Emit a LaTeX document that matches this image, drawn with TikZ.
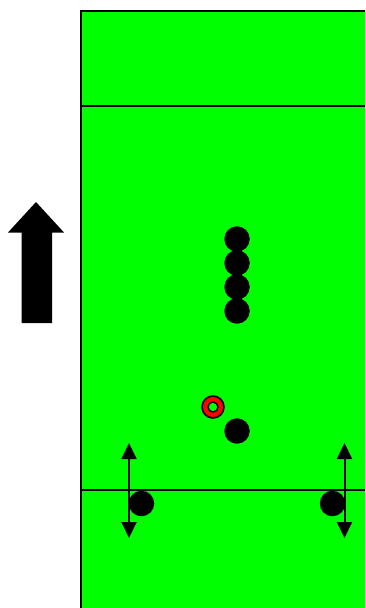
\documentclass[tikz,border=0pt]{standalone}
\usetikzlibrary{arrows.meta}
\definecolor{pitch}{RGB}{0,255,0}
\begin{document}
\begin{tikzpicture}[x=1pt,y=-1pt,
  player/.style={circle,fill=black,inner sep=0pt,minimum size=25.5pt},
  ballring/.style={circle,draw=black,line width=1.6pt,fill=red,inner sep=0pt,minimum size=22pt},
  ballcore/.style={circle,draw=black,line width=1.4pt,fill=pitch,inner sep=0pt,minimum size=10pt},
  fieldline/.style={line width=1.5pt},
  moverange/.style={line width=2pt,{Triangle[length=16pt,width=15pt]}-{Triangle[length=16pt,width=15pt]}}]
\useasboundingbox (0,0) rectangle (365,608);
\clip (0,0) rectangle (365,608);
% pitch
\draw[line width=2pt,fill=pitch] (81,11) rectangle (372,616);
\draw[fieldline] (81,106) -- (372,106);
\draw[fieldline] (81,490) -- (372,490);
% direction of play
\fill[black] (36,202) -- (64,232.5) -- (52,232.5) -- (52,323) -- (21.5,323) -- (21.5,232.5) -- (8,232.5) -- cycle;
% wall of four
\node[player] (w1) at (237,239) {};
\node[player] (w2) at (237,263) {};
\node[player] (w3) at (237,287) {};
\node[player] (w4) at (237,311) {};
% ball and taker
\node[ballring] (ball) at (213,407) {};
\node[ballcore] (core) at (ball) {};
\node[player] (taker) at (237,431) {};
% flank players
\node[player] (lp) at (141.5,503.5) {};
\node[player] (rp) at (332.5,503.5) {};
\coordinate (ltop) at (129,443);
\coordinate (lbot) at (129,538);
\coordinate (rtop) at (344.5,443);
\coordinate (rbot) at (344.5,538);
\draw[moverange] (ltop) -- (lbot);
\draw[moverange] (rtop) -- (rbot);
\end{tikzpicture}
\end{document}
